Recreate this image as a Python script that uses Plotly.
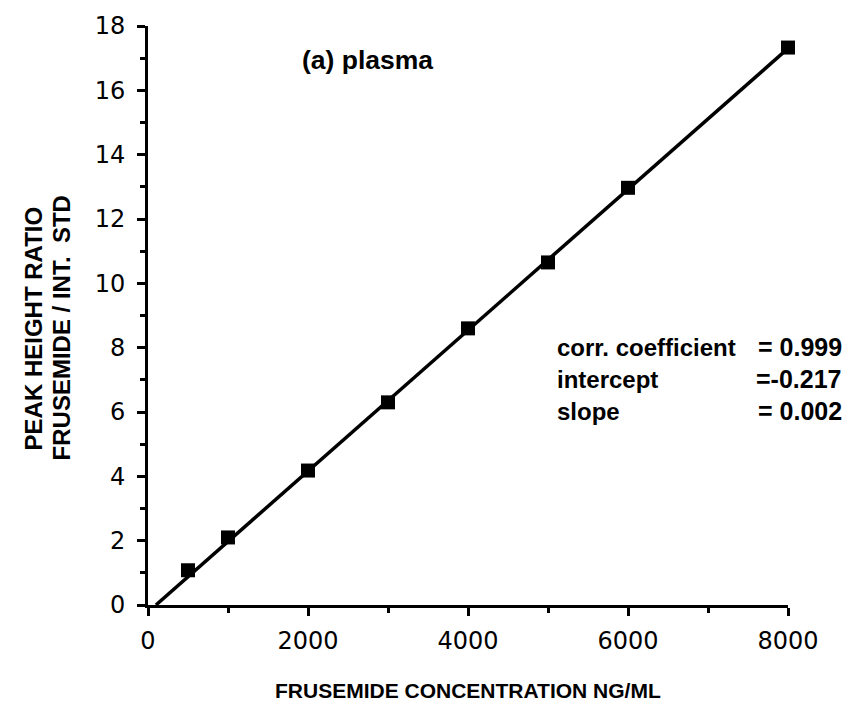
import numpy as np
import plotly.graph_objects as go

# Calibration standards: frusemide concentration (ng/mL) vs peak height ratio
concentration = [500, 1000, 2000, 3000, 4000, 5000, 6000, 8000]
peak_ratio = [1.08, 2.10, 4.18, 6.30, 8.60, 10.65, 12.97, 17.33]

# Regression statistics
corr_coefficient = 0.999
intercept = -0.217
slope = 0.00219

x_ticks = [0, 2000, 4000, 6000, 8000]
y_ticks = list(range(0, 19, 2))

FONT = "Liberation Sans, Arial, Helvetica, sans-serif"
TICK_FONT = "DejaVu Sans, Verdana, sans-serif"

# Regression line from its x-intercept to the top standard
x_line = np.array([-intercept / slope, max(concentration)])
y_line = intercept + slope * x_line

fig = go.Figure()
fig.add_trace(go.Scatter(
    x=x_line, y=y_line, mode="lines",
    line=dict(color="black", width=3.5),
    hoverinfo="skip", showlegend=False, cliponaxis=False,
))
fig.add_trace(go.Scatter(
    x=concentration, y=peak_ratio, mode="markers",
    marker=dict(symbol="square", size=14, color="black"),
    showlegend=False, cliponaxis=False,
))

axis_common = dict(
    showgrid=False, zeroline=False,
    showline=True, linecolor="black", linewidth=3,
    ticks="outside", ticklen=8, tickwidth=3, tickcolor="black",
    tickfont=dict(family=TICK_FONT, size=24, color="black"),
)
fig.update_xaxes(
    range=[0, 8000], tickvals=x_ticks, ticklabelstandoff=4,
    minor=dict(dtick=1000, ticks="outside", ticklen=5, tickwidth=3, tickcolor="black"),
    **axis_common,
)
fig.update_yaxes(
    range=[0, 18], tickvals=y_ticks, ticklabelstandoff=7,
    minor=dict(dtick=1, ticks="outside", ticklen=5, tickwidth=3, tickcolor="black"),
    **axis_common,
)

annotations = [
    dict(text="<b>(a) plasma</b>", x=300, y=57, xanchor="left", yanchor="middle",
         font=dict(size=26.5)),
    dict(text="<b>FRUSEMIDE CONCENTRATION NG/ML</b>", x=468, y=691,
         xanchor="center", yanchor="middle", font=dict(size=21)),
    dict(text="<b>PEAK HEIGHT RATIO</b>", x=33, y=327, textangle=-90,
         xanchor="center", yanchor="middle", font=dict(size=24)),
    dict(text="<b>FRUSEMIDE / INT.  STD</b>", x=61, y=327, textangle=-90,
         xanchor="center", yanchor="middle", font=dict(size=24)),
]
stat_rows = [
    ("corr. coefficient", f"= {corr_coefficient:.3f}"),
    ("intercept", f"={intercept:.3f}"),
    ("slope", f"= {slope:.3f}"),
]
for i, (label, value) in enumerate(stat_rows):
    yy = 346 + 32 * i
    annotations.append(dict(text=f"<b>{label}</b>", x=555, y=yy, xanchor="left",
                            yanchor="middle", font=dict(size=24)))
    annotations.append(dict(text=f"<b>{value}</b>", x=844, y=yy, xanchor="right",
                            yanchor="middle", font=dict(size=25)))

for a in annotations:
    a.update(xref="paper", yref="paper", showarrow=False)
    a["font"].update(family=FONT, color="black")

W, H = 852, 709
L, R, T, B = 148, 64, 23, 104
# convert pixel positions to paper coordinates
for a in annotations:
    a["x"] = (a["x"] - L) / (W - L - R)
    a["y"] = 1 - (a["y"] - T) / (H - T - B)

fig.update_layout(
    width=W, height=H,
    margin=dict(l=L, r=R, t=T, b=B),
    paper_bgcolor="white", plot_bgcolor="white",
    font=dict(family=FONT, color="black"),
    annotations=annotations,
)

fig.write_html("out.html")
